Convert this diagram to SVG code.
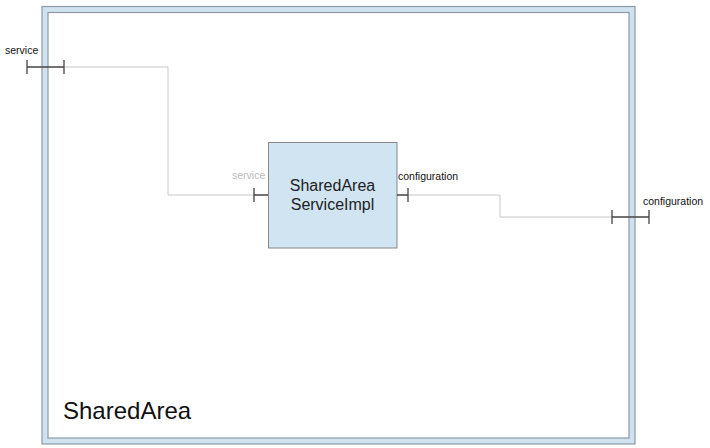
<svg xmlns="http://www.w3.org/2000/svg" width="710" height="448" viewBox="0 0 710 448">
<style>
text{font-family:"Liberation Sans",Arial,sans-serif}
.port{stroke:#444;stroke-width:1.3;fill:none}
.conn{stroke:#c8c8c8;stroke-width:1;fill:none}
.lbl{font-size:10.5px;fill:#111}
</style>
<rect width="710" height="448" fill="#fff"/>
<g id="SharedArea">
<rect x="42" y="6.5" width="593" height="437.5" fill="#cfe2f0" stroke="#8d9aa6" stroke-width="1.2"/>
<rect x="48" y="12.5" width="581" height="425.5" fill="#fff" stroke="#8d9aa6" stroke-width="1.2"/>
<text x="63" y="419" font-size="24" fill="#111">SharedArea</text>
</g>
<g id="SharedAreaServiceImpl">
<rect x="268.5" y="142.5" width="128.5" height="105.5" fill="#d0e4f2" stroke="#888" stroke-width="1"/>
<text x="332.5" y="191" font-size="16" fill="#222" text-anchor="middle">SharedArea</text>
<text x="332.5" y="210" font-size="16" fill="#222" text-anchor="middle">ServiceImpl</text>
</g>
<g id="connectors">
<polyline class="conn" points="64,67 168,67 168,195 254,195"/>
<polyline class="conn" points="408,195 500,195 500,217 612,217"/>
</g>
<g id="port-service-outer">
<path class="port" d="M27,67H64M27,60V74M64,60V74"/>
<text class="lbl" x="5" y="54">service</text>
</g>
<g id="port-service-inner">
<path class="port" d="M254,195H268M254,188V202"/>
<text class="lbl" x="232" y="179" style="fill:#bbb">service</text>
</g>
<g id="port-configuration-inner">
<path class="port" d="M397,195H408M408,188V202"/>
<text class="lbl" x="398" y="180">configuration</text>
</g>
<g id="port-configuration-outer">
<path class="port" d="M612,217H649M612,210V224M649,210V224"/>
<text class="lbl" x="643" y="205">configuration</text>
</g>
</svg>
